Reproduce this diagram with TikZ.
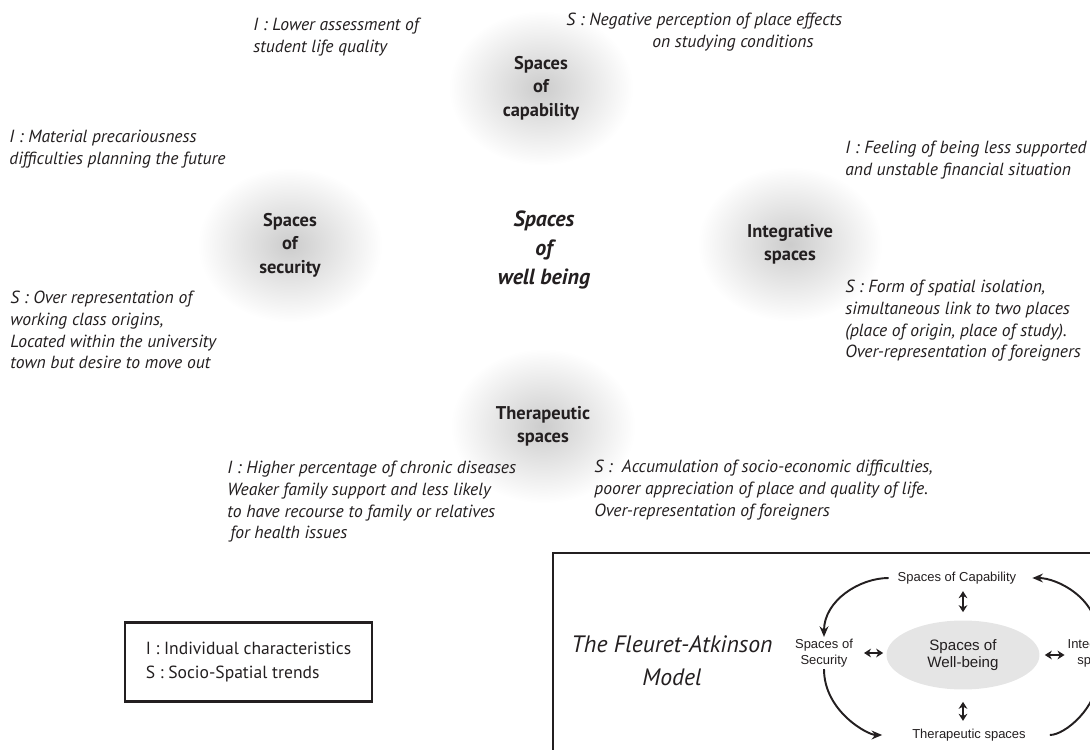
\documentclass[tikz,border=0pt]{standalone}
\usepackage{fontspec}
\setmainfont{PT Sans}
\newfontfamily\arialfont{Liberation Sans}
\usetikzlibrary{shapes.geometric,arrows.meta}
\definecolor{ink}{RGB}{35,31,32}
\begin{document}
\begin{tikzpicture}[>={Stealth[length=6pt,width=5pt]}, x=0.02cm, y=-0.02cm, color=ink,
	note/.style={anchor=north west, inner sep=0pt, align=left, font=\fontsize{10}{12.3}\selectfont\itshape},
	glowlabel/.style={ellipse, shade, inner color=black!20, outer color=white, minimum width=3.7cm, minimum height=3.1cm, align=center, font=\fontsize{10.5}{13.3}\selectfont\bfseries},
	small/.style={font=\arialfont\fontsize{7.4}{9}\selectfont, align=center, inner sep=1pt},
	link/.style={->, line width=1.1pt},
	dlink/.style={{Stealth[length=4pt,width=5pt]}-{Stealth[length=4pt,width=5pt]}, line width=1.5pt}]
	\useasboundingbox (0,0) rectangle (1090,750);
	\clip (0,0) rectangle (1090,750);
	\node[glowlabel] (capab) at (541,88) {Spaces\\of\\capability};
	\node[glowlabel] (secur) at (290,245) {Spaces\\of\\security};
	\node[glowlabel] (integ) at (790,244) {Integrative\\spaces};
	\node[glowlabel] (therap) at (543,426) {Therapeutic\\spaces};
	\node[align=center, font=\fontsize{12.5}{16.5}\selectfont\bfseries\itshape] (wellb) at (544,250) {Spaces\\of\\well being};
	\node[note] (capI) at (253,18) {I : Lower assessment of\\student life quality};
	\node[note] (capS) at (566,13) {S : Negative perception of place effects\\\hspace*{1.72cm}on studying conditions};
	\node[note] (secI) at (9,130) {I : Material precariousness\\difficulties planning the future};
	\node[note] (secS) at (10,291) {S : Over representation of\\working class origins,\\Located within the university\\town but desire to move out};
	\node[note] (intI) at (845,141) {I : Feeling of being less supported\\and unstable financial situation};
	\node[note] (intS) at (845,280) {S : Form of spatial isolation,\\simultaneous link to two places\\(place of origin, place of study).\\Over-representation of foreigners};
	\node[note] (thrI) at (227,461) {I : Higher percentage of chronic diseases\\Weaker family support and less likely\\to have recourse to family or relatives\\\hspace*{0.06cm}for health issues};
	\node[note] (thrS) at (594,460) {S :~ Accumulation of socio-economic difficulties,\\poorer appreciation of place and quality of life.\\Over-representation of foreigners};
	\node[draw, line width=1.3pt, minimum width=4.94cm, minimum height=1.58cm, align=left, font=\fontsize{10}{13.5}\selectfont] (legend) at (248.5,662) {I : Individual characteristics\\S : Socio-Spatial trends};
	\draw[line width=1.5pt] (553,553) rectangle (1110,770);
	\node[align=center, font=\fontsize{13.5}{19}\selectfont\itshape] (model) at (672,661) {The Fleuret-Atkinson\\Model};
	\node[small] (mcap) at (957,578) {Spaces of Capability};
	\node[small] (msec) at (824,653) {Spaces of\\Security};
	\node[ellipse, fill=black!10, minimum width=3.06cm, minimum height=1.38cm, align=center, font=\arialfont\fontsize{8.6}{10}\selectfont] (mwell) at (963,655) {Spaces of\\Well-being};
	\node[small] (mint) at (1098,653) {Integrative\\spaces};
	\node[small] (mthr) at (969,735) {Therapeutic spaces};
	\draw[dlink, shorten <=0.16cm, shorten >=0.1cm] (mwell.north) -- (mwell.north |- mcap.south);
	\draw[dlink, shorten <=0.24cm, shorten >=0.12cm] (mwell.south) -- (mwell.south |- mthr.north);
	\draw[dlink, shorten <=0.18cm, shorten >=0.06cm] (msec.east) -- (msec.east -| mwell.west);
	\draw[dlink, shorten <=0.1cm, shorten >=0.02cm] (mwell.east) -- (mwell.east -| mint.west);
	\draw[link, shorten <=0.14cm] (mcap.west) to[out=180, in=90] (msec.north);
	\draw[link, shorten >=0.56cm] (msec.south) to[out=-90, in=180] (mthr.west);
	\draw[link, shorten <=0.44cm] (mthr.east) to[out=0, in=-90] (mint.south);
	\draw[link, shorten >=0.28cm] (mint.north) to[out=90, in=0] (mcap.east);
\end{tikzpicture}
\end{document}
